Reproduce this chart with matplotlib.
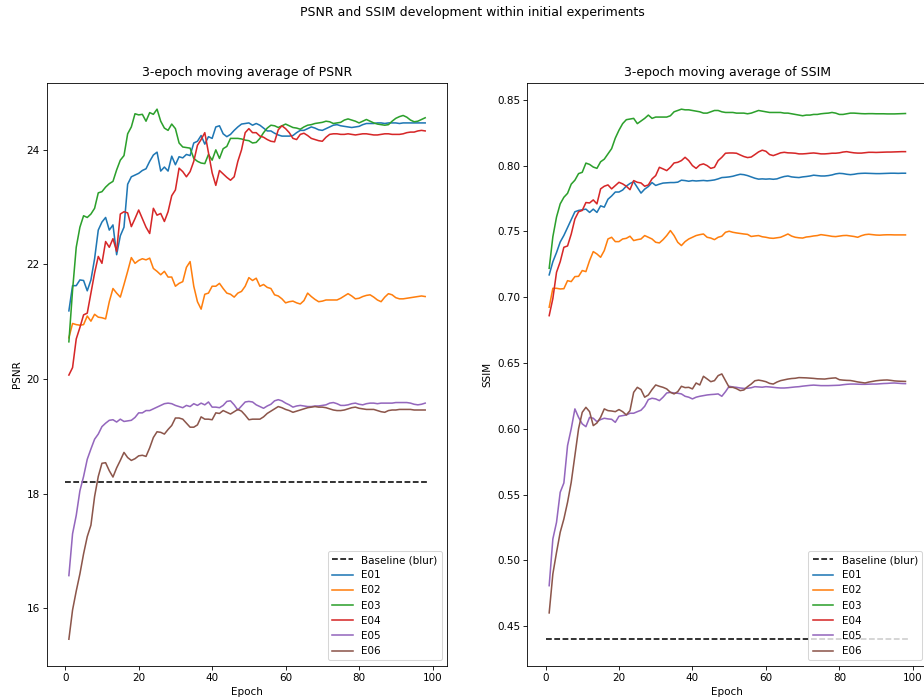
import matplotlib
matplotlib.use("Agg")
import matplotlib.pyplot as plt

# epochs 1..98, 3-epoch moving averages
epochs = list(range(1, 99))
baseline_x = [0, 99]
baseline_psnr = 18.2
baseline_ssim = 0.44

psnr_e01 = [21.19, 21.63, 21.63, 21.73, 21.72, 21.54, 21.73, 22.1, 22.6, 22.74,
            22.82, 22.6, 22.69, 22.17, 22.5, 22.65, 23.4, 23.53, 23.56, 23.59,
            23.64, 23.67, 23.8, 23.91, 23.96, 23.63, 23.7, 23.63, 23.89, 23.74,
            23.88, 23.86, 23.92, 23.9, 24.12, 24.15, 24.25, 24.1, 24.23, 24.2,
            24.4, 24.42, 24.28, 24.23, 24.27, 24.34, 24.4, 24.45, 24.46, 24.47,
            24.43, 24.46, 24.43, 24.38, 24.33, 24.33, 24.29, 24.26, 24.24, 24.24,
            24.24, 24.25, 24.3, 24.34, 24.34, 24.37, 24.4, 24.38, 24.35, 24.34,
            24.37, 24.4, 24.43, 24.44, 24.42, 24.41, 24.4, 24.39, 24.4, 24.41,
            24.44, 24.46, 24.46, 24.46, 24.47, 24.47, 24.46, 24.47, 24.47, 24.47,
            24.46, 24.47, 24.47, 24.47, 24.47, 24.47, 24.47, 24.47]
psnr_e02 = [20.72, 20.97, 20.95, 20.94, 20.95, 21.1, 21.01, 21.13, 21.08, 21.07,
            21.05, 21.35, 21.58, 21.5, 21.43, 21.65, 21.88, 22.12, 22.02, 22.07,
            22.1, 22.08, 22.11, 21.93, 21.88, 21.82, 21.88, 21.78, 21.78, 21.62,
            21.67, 21.7, 21.95, 22.05, 21.62, 21.35, 21.22, 21.48, 21.5, 21.62,
            21.62, 21.67, 21.58, 21.5, 21.48, 21.43, 21.5, 21.53, 21.62, 21.77,
            21.72, 21.76, 21.62, 21.65, 21.6, 21.58, 21.47, 21.45, 21.4, 21.33,
            21.35, 21.36, 21.33, 21.31, 21.37, 21.5, 21.44, 21.39, 21.35, 21.36,
            21.38, 21.38, 21.38, 21.38, 21.41, 21.45, 21.49, 21.45, 21.4, 21.41,
            21.44, 21.46, 21.47, 21.43, 21.38, 21.35, 21.43, 21.49, 21.47, 21.42,
            21.4, 21.4, 21.41, 21.42, 21.43, 21.44, 21.45, 21.44]
psnr_e03 = [20.65, 21.55, 22.3, 22.65, 22.85, 22.82, 22.88, 22.98, 23.25, 23.27,
            23.35, 23.41, 23.45, 23.65, 23.82, 23.9, 24.28, 24.4, 24.63, 24.61,
            24.62, 24.5, 24.65, 24.62, 24.71, 24.5, 24.38, 24.34, 24.45, 24.37,
            24.12, 24.05, 24.04, 24.03, 23.85, 23.8, 23.77, 23.76, 23.92, 23.82,
            24.0, 23.85, 24.02, 24.06, 24.2, 24.2, 24.2, 24.19, 24.17, 24.16,
            24.12, 24.13, 24.2, 24.3, 24.38, 24.43, 24.42, 24.39, 24.42, 24.45,
            24.42, 24.39, 24.38, 24.36, 24.4, 24.43, 24.44, 24.46, 24.47, 24.48,
            24.5, 24.49, 24.46, 24.47, 24.48, 24.52, 24.54, 24.52, 24.5, 24.47,
            24.5, 24.53, 24.5, 24.47, 24.45, 24.44, 24.43, 24.44, 24.5, 24.55,
            24.58, 24.6, 24.57, 24.52, 24.49, 24.5, 24.53, 24.56]
psnr_e04 = [20.07, 20.2, 20.7, 20.9, 21.12, 21.15, 21.5, 21.85, 22.14, 22.02,
            22.4, 22.3, 22.45, 22.23, 22.88, 22.92, 22.9, 22.66, 22.8, 22.95,
            22.8, 22.65, 22.54, 22.98, 22.86, 22.89, 22.75, 22.92, 23.2, 23.3,
            23.68, 23.62, 23.53, 23.62, 23.8, 24.08, 24.18, 24.3, 23.95, 23.6,
            23.38, 23.64, 23.58, 23.52, 23.47, 23.53, 23.8, 24.0, 24.3, 24.37,
            24.3, 24.3, 24.24, 24.22, 24.18, 24.15, 24.14, 24.35, 24.42, 24.37,
            24.3, 24.2, 24.18, 24.27, 24.29, 24.25, 24.2, 24.18, 24.16, 24.15,
            24.22, 24.27, 24.28, 24.28, 24.27, 24.27, 24.28, 24.27, 24.26, 24.27,
            24.28, 24.28, 24.27, 24.26, 24.26, 24.27, 24.28, 24.28, 24.27, 24.27,
            24.27, 24.28, 24.3, 24.31, 24.31, 24.33, 24.34, 24.33]
psnr_e05 = [16.57, 17.3, 17.62, 18.05, 18.3, 18.6, 18.78, 18.95, 19.04, 19.17,
            19.23, 19.28, 19.29, 19.25, 19.3, 19.26, 19.27, 19.28, 19.33, 19.41,
            19.41, 19.45, 19.45, 19.48, 19.51, 19.54, 19.57, 19.58, 19.57, 19.54,
            19.52, 19.5, 19.54, 19.52, 19.57, 19.54, 19.58, 19.55, 19.6, 19.51,
            19.51, 19.5, 19.54, 19.61, 19.62, 19.55, 19.46, 19.53, 19.6, 19.61,
            19.6, 19.55, 19.52, 19.49, 19.53, 19.56, 19.62, 19.64, 19.62, 19.58,
            19.55, 19.51, 19.53, 19.54, 19.53, 19.52, 19.52, 19.53, 19.53, 19.54,
            19.55, 19.58, 19.59, 19.57, 19.54, 19.54, 19.55, 19.57, 19.58, 19.56,
            19.55, 19.57, 19.58, 19.58, 19.57, 19.58, 19.58, 19.58, 19.58, 19.59,
            19.59, 19.59, 19.59, 19.58, 19.56, 19.55, 19.56, 19.58]
psnr_e06 = [15.46, 15.97, 16.3, 16.6, 16.95, 17.25, 17.45, 17.95, 18.3, 18.53,
            18.54, 18.4, 18.29, 18.45, 18.58, 18.72, 18.63, 18.58, 18.61, 18.66,
            18.67, 18.65, 18.8, 18.98, 19.08, 19.07, 19.04, 19.12, 19.19, 19.32,
            19.32, 19.3, 19.23, 19.16, 19.16, 19.2, 19.34, 19.3, 19.3, 19.29,
            19.41, 19.4, 19.45, 19.42, 19.39, 19.43, 19.47, 19.44, 19.37, 19.29,
            19.3, 19.3, 19.3, 19.34, 19.4, 19.44, 19.48, 19.52, 19.5, 19.47,
            19.45, 19.42, 19.44, 19.46, 19.48, 19.5, 19.51, 19.52, 19.51, 19.51,
            19.5, 19.48, 19.46, 19.45, 19.45, 19.46, 19.48, 19.5, 19.51, 19.49,
            19.48, 19.47, 19.47, 19.47, 19.45, 19.43, 19.42, 19.45, 19.46, 19.46,
            19.47, 19.47, 19.47, 19.47, 19.46, 19.46, 19.46, 19.46]

ssim_e01 = [0.717, 0.727, 0.734, 0.742, 0.747, 0.753, 0.759, 0.765, 0.766, 0.7665,
            0.767, 0.7645, 0.767, 0.7645, 0.7695, 0.7685, 0.7745, 0.777, 0.78, 0.78,
            0.7815, 0.7845, 0.7865, 0.7878, 0.7835, 0.7792, 0.7822, 0.7842, 0.7872, 0.785,
            0.786, 0.7868, 0.787, 0.7872, 0.7872, 0.7875, 0.789, 0.7887, 0.7882, 0.7887,
            0.7884, 0.7886, 0.7888, 0.7885, 0.7888, 0.7892, 0.79, 0.791, 0.7912, 0.7915,
            0.792, 0.7928, 0.7935, 0.7932, 0.7925, 0.7915, 0.7905, 0.7898, 0.79, 0.7898,
            0.79, 0.7897, 0.79, 0.791, 0.7918, 0.7922, 0.7915, 0.7912, 0.791, 0.7915,
            0.7918, 0.7922, 0.7928, 0.7925, 0.7922, 0.7922, 0.7925, 0.793, 0.7938, 0.7942,
            0.794, 0.7935, 0.7932, 0.7935, 0.794, 0.7942, 0.7943, 0.7942, 0.7941, 0.794,
            0.794, 0.7941, 0.7942, 0.7943, 0.7943, 0.7942, 0.7943, 0.7943]
ssim_e02 = [0.6924, 0.7068, 0.7068, 0.7063, 0.7065, 0.7126, 0.7119, 0.7157, 0.7159, 0.7203,
            0.7195, 0.7279, 0.7347, 0.7329, 0.7304, 0.7355, 0.7443, 0.7456, 0.7423, 0.7423,
            0.7443, 0.7448, 0.7464, 0.7431, 0.7438, 0.7443, 0.7469, 0.7456, 0.7443, 0.7418,
            0.7413, 0.7438, 0.7469, 0.7507, 0.7469, 0.7418, 0.7393, 0.7423, 0.7443, 0.7456,
            0.7469, 0.7476, 0.7481, 0.7456, 0.745, 0.7438, 0.7456, 0.7464, 0.7494, 0.7502,
            0.7494, 0.7489, 0.7485, 0.7481, 0.7478, 0.7462, 0.7466, 0.7469, 0.746, 0.7456,
            0.745, 0.7448, 0.7452, 0.7456, 0.7468, 0.7481, 0.7465, 0.7456, 0.7452, 0.745,
            0.7458, 0.7461, 0.7466, 0.7469, 0.7476, 0.7472, 0.7468, 0.7463, 0.7461, 0.7465,
            0.7469, 0.747, 0.7466, 0.7462, 0.7456, 0.7468, 0.7476, 0.7479, 0.7476, 0.7473,
            0.7472, 0.7474, 0.7475, 0.7475, 0.7474, 0.7474, 0.7474, 0.7474]
ssim_e03 = [0.722, 0.746, 0.761, 0.771, 0.776, 0.779, 0.786, 0.789, 0.794, 0.795,
            0.802, 0.801, 0.799, 0.798, 0.803, 0.805, 0.809, 0.813, 0.821, 0.827,
            0.832, 0.835, 0.8355, 0.836, 0.832, 0.834, 0.836, 0.8385, 0.836, 0.837,
            0.837, 0.837, 0.837, 0.838, 0.841, 0.842, 0.843, 0.8425, 0.8425, 0.842,
            0.8415, 0.841, 0.84, 0.84, 0.841, 0.842, 0.842, 0.841, 0.8405, 0.8405,
            0.8405, 0.84, 0.84, 0.84, 0.8395, 0.84, 0.841, 0.842, 0.8415, 0.841,
            0.8405, 0.8405, 0.8405, 0.8405, 0.84, 0.84, 0.8395, 0.839, 0.8385, 0.838,
            0.8385, 0.8385, 0.839, 0.839, 0.8395, 0.8398, 0.84, 0.8405, 0.84, 0.839,
            0.839, 0.8395, 0.84, 0.84, 0.8398, 0.8396, 0.8395, 0.8396, 0.8396, 0.8395,
            0.8395, 0.8395, 0.8394, 0.8394, 0.8394, 0.8395, 0.8396, 0.8397]
ssim_e04 = [0.686, 0.699, 0.719, 0.727, 0.738, 0.739, 0.748, 0.7595, 0.765, 0.766,
            0.772, 0.7717, 0.774, 0.771, 0.7824, 0.7844, 0.7854, 0.7824, 0.7849, 0.7874,
            0.7862, 0.7844, 0.7818, 0.7887, 0.7874, 0.7869, 0.7844, 0.7854, 0.79, 0.7925,
            0.7988, 0.7976, 0.7963, 0.7988, 0.8021, 0.8026, 0.8039, 0.8064, 0.8039, 0.8001,
            0.798, 0.8006, 0.8014, 0.8001, 0.798, 0.7988, 0.8039, 0.8064, 0.8095, 0.8097,
            0.8097, 0.8095, 0.8082, 0.807, 0.8062, 0.8066, 0.8085, 0.8105, 0.8118, 0.811,
            0.8085, 0.8077, 0.8087, 0.8098, 0.8102, 0.8098, 0.8097, 0.8095, 0.809, 0.809,
            0.8092, 0.8095, 0.8097, 0.8094, 0.809, 0.809, 0.8092, 0.8095, 0.8095, 0.8098,
            0.8104, 0.8107, 0.8102, 0.8098, 0.8096, 0.8096, 0.8099, 0.8102, 0.8102, 0.8101,
            0.8102, 0.8103, 0.8104, 0.8104, 0.8105, 0.8106, 0.8107, 0.8107]
ssim_e05 = [0.4807, 0.5162, 0.5289, 0.5517, 0.5588, 0.5872, 0.6, 0.6151, 0.6087, 0.6037,
            0.6016, 0.6087, 0.608, 0.6054, 0.607, 0.608, 0.6075, 0.6072, 0.6049, 0.6095,
            0.61, 0.6105, 0.6118, 0.6118, 0.613, 0.6141, 0.6171, 0.6222, 0.6232, 0.6227,
            0.6214, 0.624, 0.6272, 0.6277, 0.6272, 0.627, 0.6265, 0.6247, 0.624, 0.6227,
            0.624, 0.6247, 0.6252, 0.6257, 0.626, 0.6262, 0.6265, 0.6247, 0.6282, 0.6323,
            0.6318, 0.6315, 0.631, 0.6307, 0.6308, 0.6312, 0.632, 0.6318, 0.6316, 0.632,
            0.6318, 0.6315, 0.6312, 0.631, 0.631, 0.6312, 0.6315, 0.6318, 0.632, 0.6324,
            0.6327, 0.633, 0.6332, 0.633, 0.6328, 0.6328, 0.6328, 0.6329, 0.633, 0.6331,
            0.6335, 0.6338, 0.634, 0.634, 0.6339, 0.6338, 0.6338, 0.6339, 0.634, 0.634,
            0.6342, 0.6344, 0.6345, 0.6347, 0.6348, 0.6346, 0.6344, 0.6343]
ssim_e06 = [0.46, 0.4896, 0.506, 0.5213, 0.5314, 0.5441, 0.5593, 0.5796, 0.6, 0.6125,
            0.6163, 0.613, 0.6024, 0.6044, 0.6087, 0.6151, 0.6138, 0.6135, 0.613, 0.6146,
            0.613, 0.6105, 0.6138, 0.6277, 0.6315, 0.6298, 0.624, 0.6257, 0.6298, 0.6333,
            0.6323, 0.6315, 0.6303, 0.6277, 0.6265, 0.6282, 0.6323, 0.6313, 0.6315, 0.6303,
            0.6348, 0.6333, 0.6399, 0.6379, 0.6358, 0.6366, 0.6404, 0.6417, 0.6366, 0.6315,
            0.6315, 0.6305, 0.629, 0.6295, 0.632, 0.634, 0.6365, 0.637, 0.6365, 0.6358,
            0.6345, 0.634, 0.6355, 0.6366, 0.6372, 0.6378, 0.6382, 0.6384, 0.6389, 0.6388,
            0.6387, 0.6385, 0.6383, 0.638, 0.6379, 0.6378, 0.6382, 0.6385, 0.6387, 0.6373,
            0.637, 0.6368, 0.6367, 0.6362, 0.6356, 0.6352, 0.6348, 0.6355, 0.636, 0.6365,
            0.6368, 0.637, 0.6371, 0.6368, 0.6364, 0.6362, 0.6361, 0.636]

labels = ["E01", "E02", "E03", "E04", "E05", "E06"]
psnr_runs = [psnr_e01, psnr_e02, psnr_e03, psnr_e04, psnr_e05, psnr_e06]
ssim_runs = [ssim_e01, ssim_e02, ssim_e03, ssim_e04, ssim_e05, ssim_e06]

# reference looks like a wider figure shrunk down, so render at 75 dpi
fig = plt.figure(figsize=(924 / 75, 700 / 75), dpi=75)
fig.suptitle("PSNR and SSIM development within initial experiments", x=0.511, y=0.992)

# right panel runs past the figure edge, as in the reference
ax1 = fig.add_axes([0.0509, 0.049, 0.4329, 0.8329])
ax2 = fig.add_axes([0.5707, 0.049, 0.4329, 0.8329])

ax1.plot(baseline_x, [baseline_psnr, baseline_psnr], "k--", label="Baseline (blur)")
for lab, vals in zip(labels, psnr_runs):
    ax1.plot(epochs, vals, label=lab)
ax1.set_title("3-epoch moving average of PSNR")
ax1.set_xlabel("Epoch")
ax1.set_ylabel("PSNR")
ax1.legend(loc="lower right")

ax2.plot(baseline_x, [baseline_ssim, baseline_ssim], "k--", label="Baseline (blur)")
for lab, vals in zip(labels, ssim_runs):
    ax2.plot(epochs, vals, label=lab)
ax2.set_title("3-epoch moving average of SSIM")
ax2.set_xlabel("Epoch")
ax2.set_ylabel("SSIM")
ax2.legend(loc="lower right")

fig.savefig("out.png", dpi=75)
